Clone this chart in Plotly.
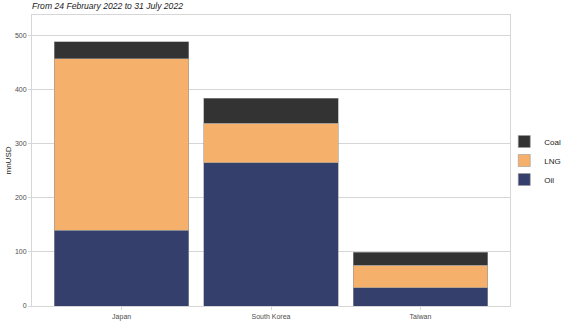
import plotly.graph_objects as go

# Fossil-fuel import payments by destination, mnUSD
countries = ["Japan", "South Korea", "Taiwan"]
oil = [140, 265, 34]
lng = [317, 73, 41]
coal = [32, 46, 24]

y_ticks = [0, 100, 200, 300, 400, 500]

colors = {"Oil": "#343F6B", "LNG": "#F5B06B", "Coal": "#333333"}

fig = go.Figure()
for name, vals in [("Oil", oil), ("LNG", lng), ("Coal", coal)]:
    fig.add_trace(go.Bar(
        x=countries, y=vals, name=name,
        marker=dict(color=colors[name], line=dict(color="#9a9a9a", width=0.6)),
    ))

grid = "#d6d6d6"
fig.update_layout(
    width=566, height=327,
    barmode="stack", bargap=0.1,
    margin=dict(l=32, r=56, t=15, b=21, autoexpand=False),
    paper_bgcolor="white", plot_bgcolor="white",
    font=dict(family="Liberation Sans, Arial, sans-serif", color="#4d4d4d", size=7),
    title=dict(
        text="<i>From 24 February 2022 to 31 July 2022</i>",
        x=32 / 566, xref="container", xanchor="left",
        y=1, yref="container", yanchor="top",
        pad=dict(t=3, l=0), font=dict(size=8.6, color="#1a1a1a"),
    ),
    legend=dict(
        traceorder="reversed", x=0.988, xanchor="left", y=0.5, yanchor="middle",
        font=dict(size=8, color="#1a1a1a"), itemwidth=30, tracegroupgap=0,
        bgcolor="rgba(0,0,0,0)",
    ),
    showlegend=True,
)
fig.update_xaxes(
    range=[-0.6, 2.6], showgrid=False,
    showline=True, linecolor=grid, linewidth=1, mirror=True,
    ticks="outside", ticklen=3, tickcolor=grid, ticklabelstandoff=1,
    tickfont=dict(size=7, color="#4d4d4d"),
)
fig.update_yaxes(
    range=[0, 538], tickvals=y_ticks, showgrid=True, gridcolor=grid, gridwidth=1,
    showline=True, linecolor=grid, linewidth=1, mirror=True, zeroline=False,
    ticks="outside", ticklen=3, tickcolor=grid,
    tickfont=dict(size=7, color="#4d4d4d"),
    title=dict(text="mnUSD", font=dict(size=8, color="#1a1a1a"), standoff=2),
)

fig.write_html("out.html")
